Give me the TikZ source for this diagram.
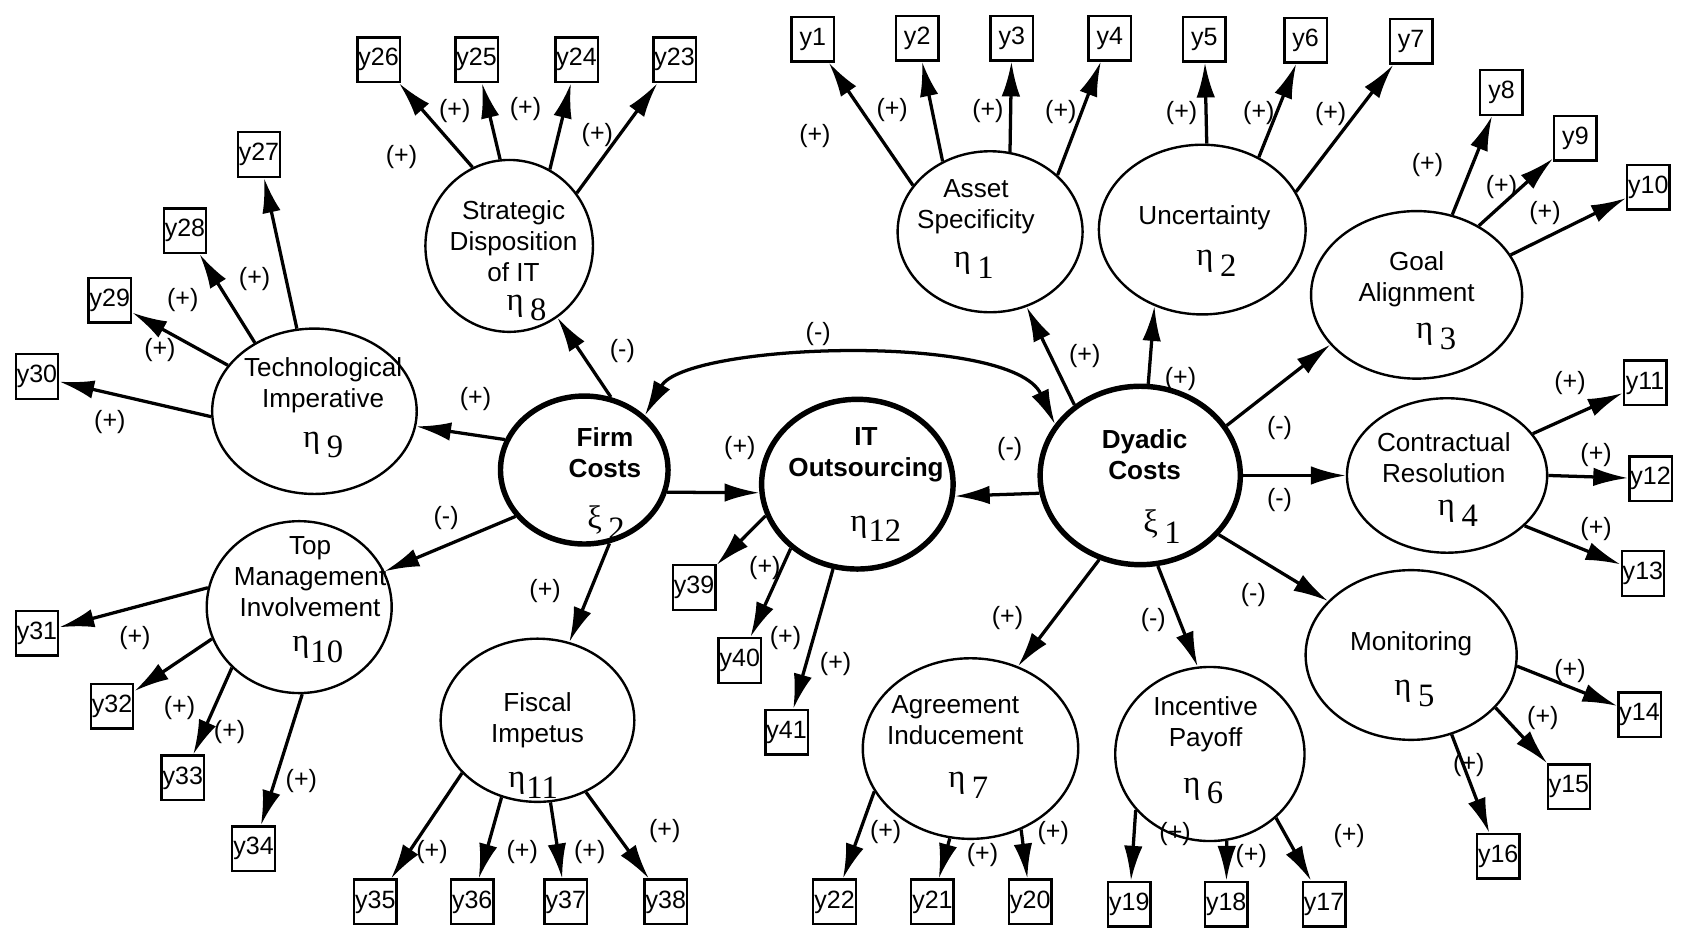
\documentclass[tikz,border=0pt]{standalone}
\usepackage{fontspec}
\setmainfont{Liberation Sans}
\newfontfamily\serifgr{Liberation Serif}
\usetikzlibrary{arrows.meta,shapes.geometric}
\newcommand\etasub[2][3pt]{{\fontsize{15}{15}\selectfont\serifgr η\hspace{#1}\raisebox{-5pt}{#2}}}
\newcommand\xisub[2][3pt]{{\fontsize{15}{15}\selectfont\serifgr ξ\hspace{#1}\raisebox{-5pt}{#2}}}
\tikzset{
 lat/.style={ellipse, draw, line width=1.1pt, inner sep=0pt},
 thk/.style={line width=2.5pt},
 ind/.style={draw, line width=1.1pt, minimum width=19.5pt, minimum height=20.5pt, inner sep=0pt, font=\fontsize{11.5}{11.5}\selectfont},
 arr/.style={-{Latex[length=16pt,width=8.5pt]}, line width=1.5pt},
 dbl/.style={{Latex[length=16pt,width=8.5pt]}-{Latex[length=16pt,width=8.5pt]}, line width=1.5pt},
 sgn/.style={font=\fontsize{11.5}{11.5}\selectfont, inner sep=0pt},
 words/.style={align=center, font=\fontsize{12}{14.3}\selectfont, inner sep=0pt},
 bwords/.style={words, font=\fontsize{12}{14.3}\selectfont\bfseries},
 sym/.style={inner sep=0pt},
}
\begin{document}
\begin{tikzpicture}[x=0.5pt,y=-0.5pt]
\useasboundingbox (0,0) rectangle (1568,858);
% latent ellipses
\node[lat, minimum width=77pt, minimum height=79pt] (E8) at (468,226) {};
\node[lat, minimum width=94pt, minimum height=76pt] (E9) at (289,378) {};
\node[lat, minimum width=85pt, minimum height=79pt] (E10) at (275,558) {};
\node[lat, minimum width=89pt, minimum height=75pt] (E11) at (494,662) {};
\node[lat, thk, minimum width=77pt, minimum height=68pt] (E2) at (537,432) {};
\node[lat, thk, minimum width=88pt, minimum height=78pt] (E12) at (788,445) {};
\node[lat, thk, minimum width=92pt, minimum height=82pt] (E1) at (1048,437) {};
\node[lat, minimum width=85pt, minimum height=74pt] (A1) at (910,213) {};
\node[lat, minimum width=95pt, minimum height=78pt] (A2) at (1105,211) {};
\node[lat, minimum width=97pt, minimum height=77pt] (A3) at (1302,271) {};
\node[lat, minimum width=92pt, minimum height=71pt] (A4) at (1330,437) {};
\node[lat, minimum width=97pt, minimum height=78pt] (A5) at (1297,602) {};
\node[lat, minimum width=87pt, minimum height=80pt] (A6) at (1112,693) {};
\node[lat, minimum width=99pt, minimum height=83pt] (A7) at (892,688) {};
% texts in ellipses
\node[words] (T8) at (472,222) {Strategic\\Disposition\\of IT};
\node[sym] (H8) at (484,283) {\etasub{8}};
\node[words] (T9) at (297,354) {Technological\\Imperative};
\node[sym] (H9) at (297,409) {\etasub{9}};
\node[words] (T10) at (285,530) {Top\\Management\\Involvement};
\node[sym] (H10) at (292,597) {\etasub[0.5pt]{10}};
\node[words] (T11) at (494,662) {Fiscal\\Impetus};
\node[sym] (H11) at (490,722) {\etasub[0.5pt]{11}};
\node[bwords] (T2) at (556,416) {Firm\\Costs};
\node[sym] (H2) at (557,480) {\xisub{2}};
\node[bwords] (T12) at (796,418) {IT\\Outsourcing};
\node[sym] (H12) at (805,486) {\etasub[0.5pt]{12}};
\node[bwords] (T1) at (1052,418) {Dyadic\\Costs};
\node[sym] (H1) at (1068,484) {\xisub{1}};
\node[words] (TA1) at (897,190) {Asset\\Specificity};
\node[sym] (HA1) at (895,244) {\etasub{1}};
\node[words] (TA2) at (1107,200) {Uncertainty};
\node[sym] (HA2) at (1118,242) {\etasub{2}};
\node[words] (TA3) at (1302,257) {Goal\\Alignment};
\node[sym] (HA3) at (1320,309) {\etasub{3}};
\node[words] (TA4) at (1327,421) {Contractual\\Resolution};
\node[sym] (HA4) at (1340,472) {\etasub{4}};
\node[words] (TA5) at (1297,592) {Monitoring};
\node[sym] (HA5) at (1300,637) {\etasub{5}};
\node[words] (TA6) at (1108,666) {Incentive\\Payoff};
\node[sym] (HA6) at (1106,727) {\etasub{6}};
\node[words] (TA7) at (878,662) {Agreement\\Inducement};
\node[sym] (HA7) at (890,722) {\etasub{7}};
% indicators
\foreach \n/\x/\y in {1/747/36,2/843/35,3/930/35,4/1020/35,5/1107/36,6/1200/37,7/1297/38,
 8/1380/85,9/1448/127,10/1515/172,11/1512/352,12/1517/440,13/1510/527,
 14/1507/657,15/1442/723,16/1377/787,17/1217/831,18/1127/831,19/1038/831,
 20/947/829,21/857/829,22/767/829,23/620/55,24/530/55,25/438/55,26/348/55,
 27/238/142,28/170/212,29/101/276,30/34/346,31/34/582,32/103/649,33/168/715,
 34/233/780,35/345/829,36/434/829,37/520/829,38/612/829,39/638/540,40/680/607,41/723/673}
 {\node[ind] (y\n) at (\x,\y) {y\n};}
% structural arrows
\draw[arr] (E2.159) -- (E9);
\draw[arr] (E2.70) -- (E8);
\draw[arr] (E2.214) -- (E10);
\draw[arr] (E2.289) -- (E11);
\draw[arr] (E2.-15) -- (E12.185);
\draw[arr] (E1.190) -- (E12.353);
\draw[arr] (E1.133) -- (A1);
\draw[arr] (E1.85) -- (A2.238);
\draw[arr] (E1.30) -- (A3.210);
\draw[arr] (E1.0) -- (A4.180);
\draw[arr] (E1.323) -- (A5.147);
\draw[arr] (E1.281) -- (A6.98);
\draw[arr] (E1.244) -- (A7.60);
\draw[dbl] (E2.42) .. controls (630,315) and (930,305) .. (E1.149);
% indicator arrows
\foreach \e/\a/\y in {E9/183/30,E9/152/29,E9/131/28,E9/102/27,
 E8/115/26,E8/96/25,E8/62/24,E8/38/23,
 E10/168/31,E10/200/32,E10/222/33,E10/272/34,
 E11/215/35,E11/245/36,E11/279/37,E11/304/38,
 E12/199/39,E12/224/40,E12/254/41,
 A1/149/1,A1/124/2,A1/76/3,A1/40/4,
 A2/87/5,A2/52/6,A2/22/7,
 A3/66/8,A3/48/9,A3/23/10,
 A4/26/11,A4/0/12,A4/327/13,
 A5/354/14,A5/328/15,A5/297/16,
 A6/217/19,A6/281/18,A6/316/17,
 A7/204/22,A7/257/21,A7/302/20}
 {\draw[arr] (\e.\a) -- (y\y);}
% sign labels
\foreach \s/\x/\y [count=\i] in {-/752/307,-/572/323,+/437/367,-/410/476,+/501/543,+/680/412,
 -/928/413,+/997/327,+/1085/348,-/1176/393,-/1176/460,-/1152/547,-/1060/570,+/926/568,
 +/101/388,+/147/322,+/168/276,+/234/256,
 +/369/144,+/418/102,+/483/100,+/549/124,
 +/124/586,+/165/651,+/211/673,+/277/718,
 +/397/783,+/480/783,+/542/783,+/611/764,
 +/703/522,+/722/586,+/768/610,
 +/749/125,+/820/101,+/908/102,+/975/103,
 +/1086/104,+/1157/104,+/1223/105,
 +/1312/152,+/1380/172,+/1420/196,
 +/1443/352,+/1467/418,+/1467/486,
 +/1443/617,+/1418/660,+/1350/703,
 +/1080/767,+/1150/787,+/1240/768,
 +/814/765,+/903/786,+/968/766}
 {\node[sgn] (s\i) at (\x,\y) {(\s)};}
\end{tikzpicture}
\end{document}
